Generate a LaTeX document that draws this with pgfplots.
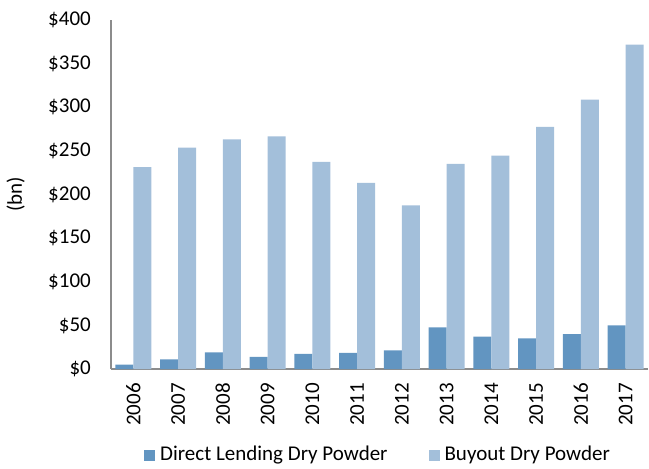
\documentclass[border=0pt]{standalone}
\usepackage{pgfplots}
\pgfplotsset{compat=1.18}
\usepackage{fontspec}
\setmainfont{Carlito}
\definecolor{lendblue}{HTML}{6295C1}
\definecolor{buyblue}{HTML}{A3BFDA}
\definecolor{axgray}{HTML}{8C8C8C}

\begin{document}
\fontsize{21pt}{25pt}\selectfont
\begin{tikzpicture}
    \begin{axis}[
        scale only axis,
        width=537pt,
        height=349pt,
        ybar=0pt,
        bar width=0.4,
        xmin=-0.5, xmax=11.5,
        ymin=0, ymax=400,
        axis x line*=bottom,
        axis y line*=left,
        axis line style={axgray, line width=1.3pt, -},
        major tick length=0pt,
        xtick=data,
        xticklabels={2006,2007,2008,2009,2010,2011,2012,2013,2014,2015,2016,2017},
        xticklabel style={rotate=90, anchor=east, inner sep=0pt},
        xticklabel shift=14pt,
        ytick={0,50,...,400},
        yticklabels={\$0,\$50,\$100,\$150,\$200,\$250,\$300,\$350,\$400},
        yticklabel style={anchor=east, inner sep=0pt},
        yticklabel shift=20pt,
        ylabel={(bn)},
        ylabel style={at={(axis description cs:-0.160,0.5)}, anchor=south, inner sep=0pt},
        legend columns=2,
        legend style={draw=none, at={(axis description cs:0.5,-0.247)}, anchor=center,
            /tikz/every even column/.append style={column sep=36pt},
            nodes={inner xsep=5pt, inner ysep=0pt},
            inner sep=0pt},
        legend image code/.code={\fill[#1] (0pt,-5.5pt) rectangle (11pt,5.5pt);},
    ]
    \addplot[fill=lendblue, draw=none] coordinates {
        (0,4.9) (1,11.1) (2,19.1) (3,13.8) (4,17.2) (5,18.6)
        (6,21.4) (7,47.8) (8,37.0) (9,35.2) (10,40.1) (11,50.0)
    };
    \addlegendentry{Direct Lending Dry Powder}
    \addplot[fill=buyblue, draw=none] coordinates {
        (0,231.5) (1,253.7) (2,263.3) (3,266.7) (4,237.3) (5,213.2)
        (6,187.6) (7,235.0) (8,244.5) (9,277.4) (10,308.7) (11,371.7)
    };
    \addlegendentry{Buyout Dry Powder}
    \end{axis}
    \pgfresetboundingbox
    \path[use as bounding box] ([xshift=-111pt,yshift=-99pt]current axis.south west)
        rectangle ([xshift=1pt,yshift=20pt]current axis.north east);
\end{tikzpicture}
\end{document}
